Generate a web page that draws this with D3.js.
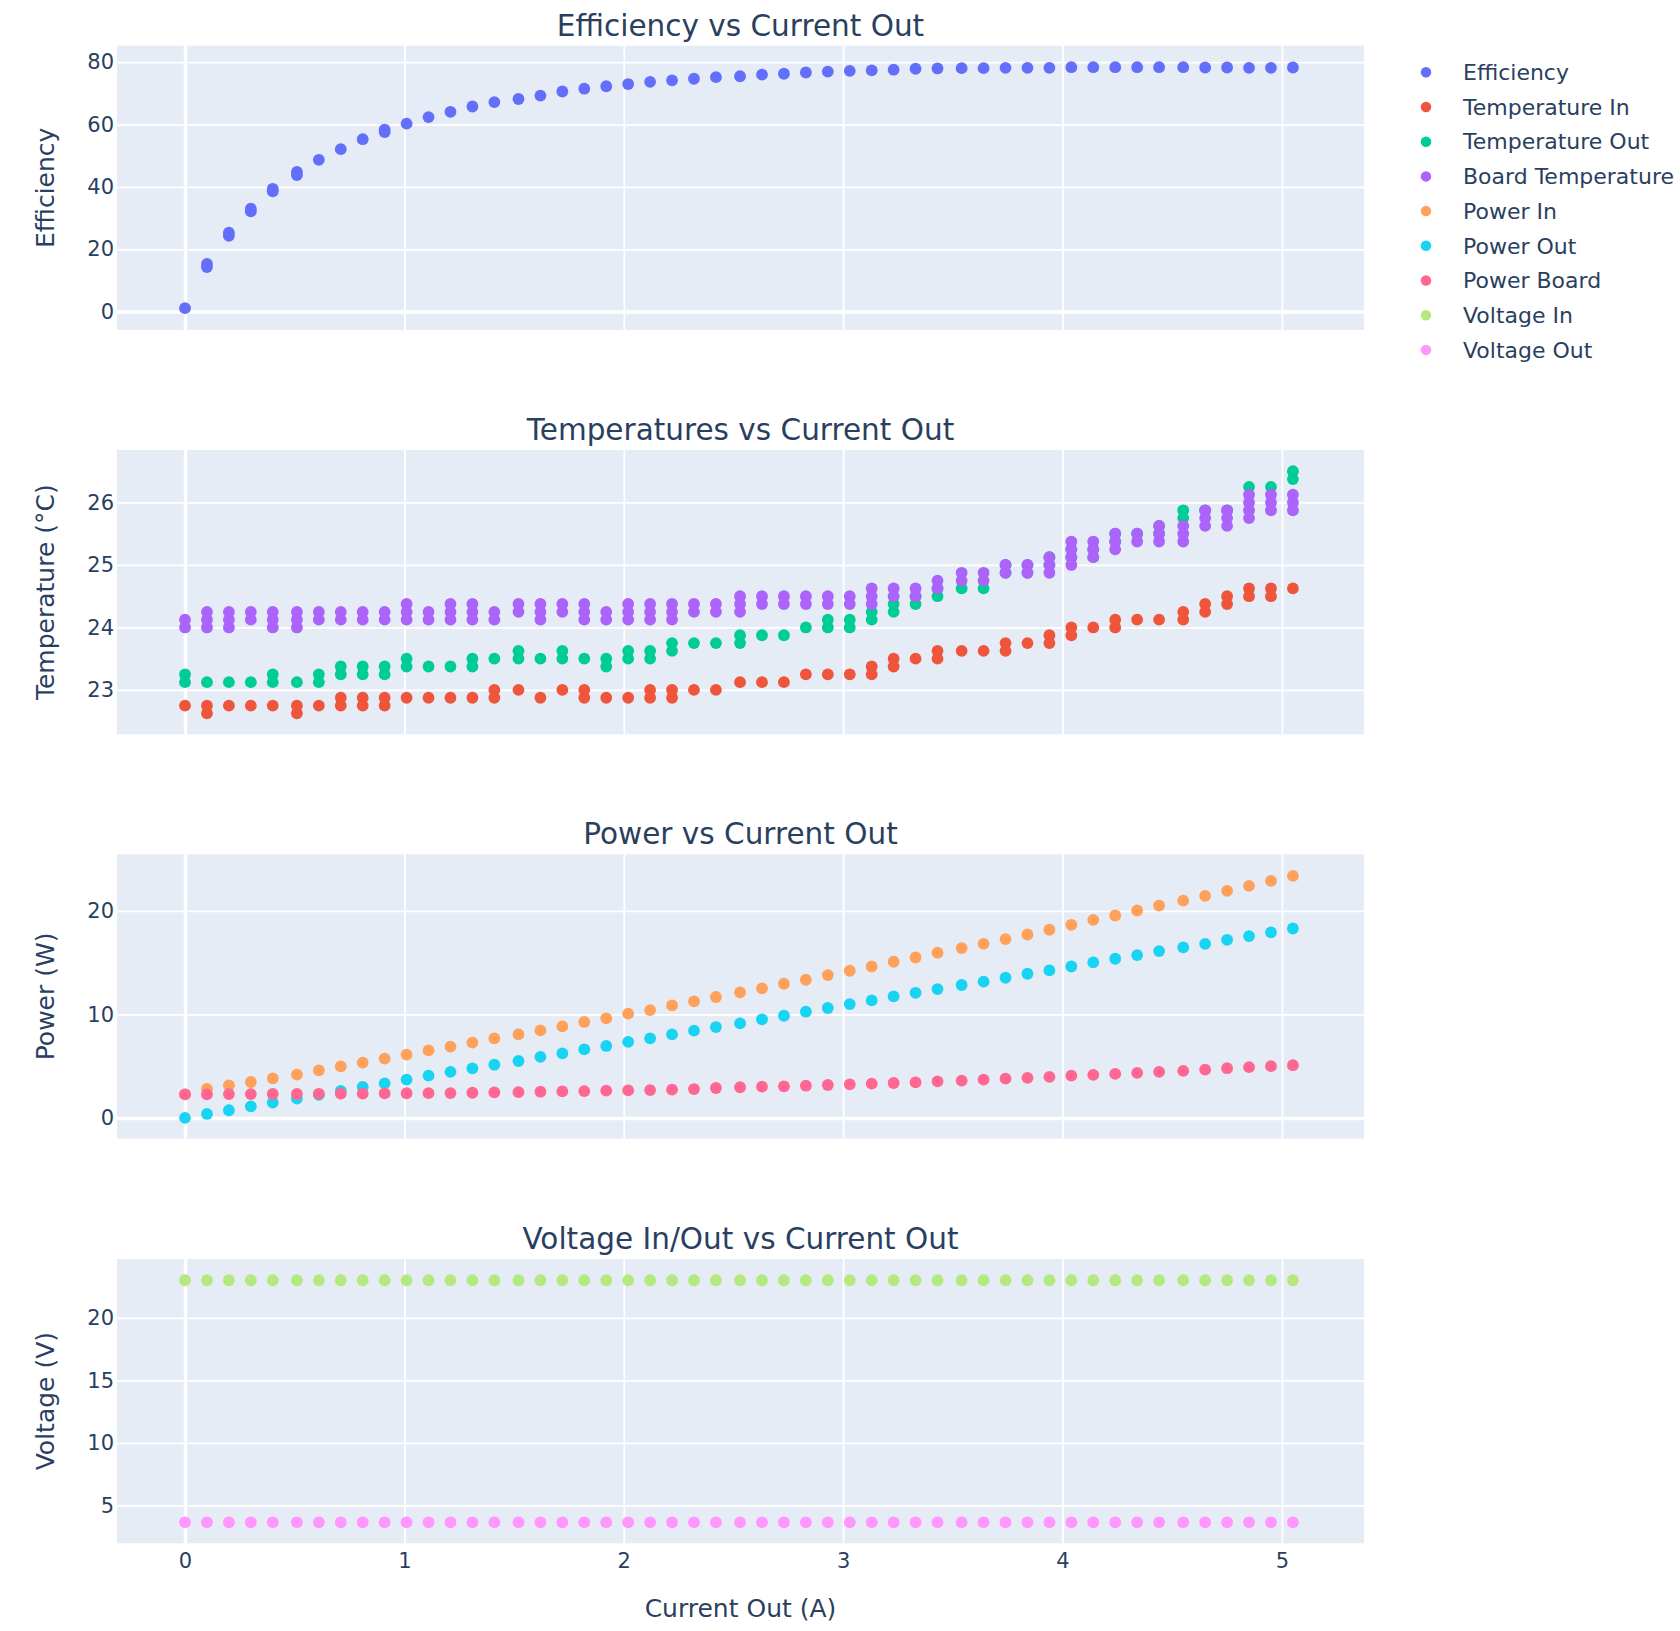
<!DOCTYPE html>
<html>
<head>
    <title>Converter efficiency</title>
    <style>
        body { margin: 0; background: #fff; }
        text { font-family: "DejaVu Sans", Verdana, sans-serif; fill: #2a3f5f; }
    </style>
</head>
<body>
<svg id="chart" width="1680" height="1631"></svg>

<script src="https://d3js.org/d3.v7.min.js"></script>
<script type="text/javascript">

// measured output current per step (A)
const current = [0, 0.10, 0.20, 0.30, 0.40, 0.51, 0.61, 0.71, 0.81, 0.91,
    1.01, 1.11, 1.21, 1.31, 1.41, 1.52, 1.62, 1.72, 1.82, 1.92,
    2.02, 2.12, 2.22, 2.32, 2.42, 2.53, 2.63, 2.73, 2.83, 2.93,
    3.03, 3.13, 3.23, 3.33, 3.43, 3.54, 3.64, 3.74, 3.84, 3.94,
    4.04, 4.14, 4.24, 4.34, 4.44, 4.55, 4.65, 4.75, 4.85, 4.95, 5.05];

// a few steps had two slightly different efficiency readings
const efficiency = [1.1, [14.3, 15.3], [24.3, 25.3], [32.2, 33.0], [38.6, 39.4], [43.8, 44.8], 48.7, 52.1, 55.3, [57.6, 58.4],
    60.3, 62.4, 64.1, 65.8, 67.2, 68.2, 69.3, 70.6, 71.5, 72.3,
    73.0, 73.7, 74.2, 74.7, 75.2, 75.5, 76.0, 76.3, 76.7, 77.0,
    77.2, 77.4, 77.6, 77.9, 78.0, 78.1, 78.1, 78.2, 78.2, 78.2,
    78.4, 78.4, 78.4, 78.4, 78.4, 78.4, 78.3, 78.3, 78.2, 78.2, 78.3];

// temperature samples per step (several readings at each current)
const tempIn = [[22.75], [22.75, 22.625], [22.75], [22.75], [22.75], [22.75, 22.625], [22.75],
    [22.875, 22.75], [22.875, 22.75], [22.875, 22.75], [22.875], [22.875], [22.875], [22.875],
    [23.0, 22.875], [23.0], [22.875], [23.0], [23.0, 22.875], [22.875], [22.875],
    [23.0, 22.875], [23.0, 22.875], [23.0], [23.0], [23.125], [23.125], [23.125],
    [23.25], [23.25], [23.25], [23.375, 23.25], [23.5, 23.375], [23.5], [23.625, 23.5],
    [23.625], [23.625], [23.75, 23.625], [23.75], [23.875, 23.75], [24.0, 23.875], [24.0],
    [24.125, 24.0], [24.125], [24.125], [24.25, 24.125], [24.375, 24.25], [24.5, 24.375],
    [24.625, 24.5], [24.625, 24.5], [24.625]];

const tempOut = [[23.25, 23.125], [23.125], [23.125], [23.125], [23.25, 23.125], [23.125],
    [23.25, 23.125], [23.375, 23.25], [23.375, 23.25], [23.375, 23.25], [23.5, 23.375],
    [23.375], [23.375], [23.5, 23.375], [23.5], [23.625, 23.5], [23.5], [23.625, 23.5],
    [23.5], [23.5, 23.375], [23.625, 23.5], [23.625, 23.5], [23.75, 23.625], [23.75],
    [23.75], [23.875, 23.75], [23.875], [23.875], [24.0], [24.125, 24.0], [24.125, 24.0],
    [24.25, 24.125], [24.375, 24.25], [24.5, 24.375], [24.625, 24.5], [24.625], [24.625],
    [25.0, 24.875], [25.0, 24.875], [25.125, 25.0], [25.25, 25.125], [25.25, 25.125],
    [25.5, 25.375], [25.5], [25.625, 25.5], [25.875, 25.75], [25.875], [25.875],
    [26.25], [26.25], [26.5, 26.375]];

const boardTemp = [[24.125, 24.0], [24.25, 24.125, 24.0], [24.25, 24.125, 24.0], [24.25, 24.125],
    [24.25, 24.125, 24.0], [24.25, 24.125, 24.0], [24.25, 24.125], [24.25, 24.125],
    [24.25, 24.125], [24.25, 24.125], [24.375, 24.25, 24.125], [24.25, 24.125],
    [24.375, 24.25, 24.125], [24.375, 24.25, 24.125], [24.25, 24.125], [24.375, 24.25],
    [24.375, 24.25, 24.125], [24.375, 24.25], [24.375, 24.25, 24.125], [24.25, 24.125],
    [24.375, 24.25, 24.125], [24.375, 24.25, 24.125], [24.375, 24.25, 24.125], [24.375, 24.25],
    [24.375, 24.25], [24.5, 24.375, 24.25], [24.5, 24.375], [24.5, 24.375], [24.5, 24.375],
    [24.5, 24.375], [24.5, 24.375], [24.625, 24.5, 24.375], [24.625, 24.5], [24.625, 24.5],
    [24.75, 24.625], [24.875, 24.75], [24.875, 24.75], [25.0, 24.875], [25.0, 24.875],
    [25.125, 25.0, 24.875], [25.375, 25.25, 25.125, 25.0], [25.375, 25.25, 25.125],
    [25.5, 25.375, 25.25], [25.5, 25.375], [25.625, 25.5, 25.375], [25.625, 25.5, 25.375],
    [25.875, 25.75, 25.625], [25.875, 25.75, 25.625], [26.125, 26.0, 25.875, 25.75],
    [26.125, 26.0, 25.875], [26.125, 26.0, 25.875]];

const powerIn = [2.28, 2.80, 3.15, 3.47, 3.82, 4.18, 4.60, 4.98, 5.34, 5.72,
    6.11, 6.53, 6.88, 7.27, 7.69, 8.07, 8.46, 8.84, 9.27, 9.62,
    10.07, 10.42, 10.87, 11.26, 11.68, 12.13, 12.51, 12.96, 13.35, 13.80,
    14.22, 14.63, 15.09, 15.50, 15.96, 16.41, 16.82, 17.28, 17.72, 18.18,
    18.66, 19.14, 19.56, 20.04, 20.52, 21.00, 21.46, 21.94, 22.42, 22.90, 23.39];

const powerOut = [0.0, 0.38, 0.74, 1.12, 1.48, 1.86, 2.22, 2.60, 2.99, 3.34,
    3.70, 4.08, 4.44, 4.79, 5.14, 5.50, 5.89, 6.24, 6.62, 6.95,
    7.34, 7.69, 8.07, 8.43, 8.78, 9.13, 9.52, 9.87, 10.26, 10.62,
    11.00, 11.35, 11.74, 12.09, 12.45, 12.84, 13.16, 13.54, 13.93, 14.25,
    14.63, 15.02, 15.38, 15.73, 16.12, 16.47, 16.82, 17.21, 17.57, 17.92, 18.30];

const powerBoard = [2.28, 2.28, 2.30, 2.30, 2.31, 2.31, 2.33, 2.34, 2.35, 2.37,
    2.38, 2.39, 2.40, 2.43, 2.46, 2.49, 2.53, 2.56, 2.59, 2.63,
    2.66, 2.69, 2.73, 2.79, 2.89, 2.96, 3.02, 3.05, 3.11, 3.18,
    3.24, 3.31, 3.37, 3.44, 3.53, 3.60, 3.70, 3.79, 3.86, 3.96,
    4.09, 4.15, 4.25, 4.35, 4.44, 4.54, 4.67, 4.80, 4.90, 5.00, 5.09];

const voltageIn = [23.0, 23.0, 23.0, 23.0, 23.0, 23.0, 23.0, 23.0, 23.0, 23.0,
    23.0, 23.0, 23.0, 23.0, 23.0, 23.0, 23.0, 23.0, 23.0, 23.0,
    23.0, 23.0, 23.0, 23.0, 23.0, 23.0, 23.0, 23.0, 23.0, 23.0,
    23.0, 23.0, 23.0, 23.0, 23.0, 23.0, 23.0, 23.0, 23.0, 23.0,
    23.0, 23.0, 23.0, 23.0, 23.0, 23.0, 23.0, 23.0, 23.0, 23.0, 23.0];

const voltageOut = [3.64, 3.64, 3.64, 3.64, 3.64, 3.64, 3.64, 3.64, 3.64, 3.64,
    3.64, 3.64, 3.64, 3.64, 3.64, 3.64, 3.64, 3.64, 3.64, 3.64,
    3.64, 3.64, 3.64, 3.64, 3.64, 3.64, 3.64, 3.64, 3.64, 3.64,
    3.64, 3.64, 3.64, 3.64, 3.64, 3.64, 3.64, 3.64, 3.64, 3.64,
    3.64, 3.64, 3.64, 3.64, 3.64, 3.64, 3.64, 3.64, 3.64, 3.64, 3.64];

const seriesNames = ['Efficiency', 'Temperature In', 'Temperature Out', 'Board Temperature',
    'Power In', 'Power Out', 'Power Board', 'Voltage In', 'Voltage Out'];
const seriesColors = ['#636efa', '#EF553B', '#00cc96', '#ab63fa',
    '#FFA15A', '#19d3f3', '#FF6692', '#B6E880', '#FF97FF'];

const xTicks = [0, 1, 2, 3, 4, 5];

const panelTitles = ['Efficiency vs Current Out', 'Temperatures vs Current Out',
    'Power vs Current Out', 'Voltage In/Out vs Current Out'];
const yTitles = ['Efficiency', 'Temperature (°C)', 'Power (W)', 'Voltage (V)'];
const yTicks = [[0, 20, 40, 60, 80], [23, 24, 25, 26], [0, 10, 20], [5, 10, 15, 20]];
const yDomains = [[-5.9, 85.3], [22.29, 26.84], [-2.0, 25.47], [1.96, 24.7]];

// flatten step lists into {x, y} points
function points(values) {
    let out = [];
    values.forEach((v, i) => {
        (Array.isArray(v) ? v : [v]).forEach(y => out.push({x: current[i], y: y}));
    });
    return out;
}

const panelSeries = [
    [{name: 0, values: efficiency}],
    [{name: 1, values: tempIn}, {name: 2, values: tempOut}, {name: 3, values: boardTemp}],
    [{name: 4, values: powerIn}, {name: 5, values: powerOut}, {name: 6, values: powerBoard}],
    [{name: 7, values: voltageIn}, {name: 8, values: voltageOut}]
];

const svg = d3.select('#chart');

const left = 117, right = 1364;
const panelTops = [45.7, 450, 854.3, 1259];
const panelHeight = 284.3;
const width = right - left;
const dotR = 5.9;

const x = d3.scaleLinear()
    .domain([-0.31, 5.374])
    .range([0, width]);

panelTops.forEach((top, p) => {
    const g = svg.append('g')
        .attr('class', 'panel')
        .attr('transform', `translate(${left}, ${top})`);

    const y = d3.scaleLinear()
        .domain(yDomains[p])
        .range([panelHeight, 0]);

    g.append('rect')
        .attr('width', width)
        .attr('height', panelHeight)
        .attr('fill', '#E5ECF6');

    // vertical grid
    g.append('g')
        .attr('transform', `translate(0, ${panelHeight})`)
        .call(d3.axisBottom(x).tickValues(xTicks).tickSize(-panelHeight).tickFormat(''))
        .call(a => a.select('.domain').remove())
        .call(a => a.selectAll('line')
            .attr('stroke', '#fff')
            .attr('stroke-width', d => d === 0 ? 3.5 : 1.75));

    // horizontal grid + labels
    g.append('g')
        .call(d3.axisLeft(y).tickValues(yTicks[p]).tickSize(-width).tickPadding(3)
            .tickFormat(d3.format('d')))
        .call(a => a.select('.domain').remove())
        .call(a => a.selectAll('line')
            .attr('stroke', '#fff')
            .attr('stroke-width', d => d === 0 ? 3.5 : 1.75))
        .call(a => a.selectAll('text')
            .attr('font-size', 21)
            .attr('font-family', null)
            .attr('fill', null));

    for (const s of panelSeries[p]) {
        g.append('g')
            .selectAll('circle')
            .data(points(s.values))
            .join('circle')
                .attr('cx', d => x(d.x))
                .attr('cy', d => y(d.y))
                .attr('r', dotR)
                .attr('fill', seriesColors[s.name]);
    }

    svg.append('text')
        .attr('x', left + width / 2)
        .attr('y', top - 10)
        .attr('text-anchor', 'middle')
        .attr('font-size', 29.5)
        .text(panelTitles[p]);

    svg.append('text')
        .attr('transform', `translate(54, ${top + panelHeight / 2}) rotate(-90)`)
        .attr('text-anchor', 'middle')
        .attr('font-size', 25)
        .text(yTitles[p]);

    if (p === panelTops.length - 1) {
        g.append('g')
            .attr('transform', `translate(0, ${panelHeight})`)
            .call(d3.axisBottom(x).tickValues(xTicks).tickSize(0).tickPadding(10)
                .tickFormat(d3.format('d')))
            .call(a => a.select('.domain').remove())
            .call(a => a.selectAll('text')
                .attr('font-size', 21)
                .attr('font-family', null)
                .attr('fill', null));
    }
});

svg.append('text')
    .attr('x', left + width / 2)
    .attr('y', 1617)
    .attr('text-anchor', 'middle')
    .attr('font-size', 25)
    .text('Current Out (A)');

// legend
const legend = svg.append('g')
    .attr('class', 'legend')
    .attr('transform', 'translate(1426, 72.3)');

const rows = legend.selectAll('g')
    .data(seriesNames)
    .join('g')
        .attr('transform', (d, i) => `translate(0, ${i * 34.7})`);

rows.append('circle')
    .attr('r', 5.25)
    .attr('fill', (d, i) => seriesColors[i]);

rows.append('text')
    .attr('x', 37)
    .attr('dy', '0.35em')
    .attr('font-size', 22)
    .text(d => d);

</script>
</body>
</html>
